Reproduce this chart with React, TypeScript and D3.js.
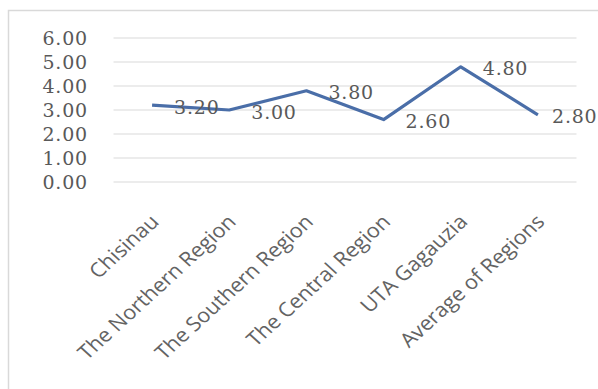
import React from "react";
import * as d3 from "d3";

const categories = ["Chisinau", "The Northern Region", "The Southern Region", "The Central Region", "UTA Gagauzia", "Average of Regions"];
const values = [3.2, 3.0, 3.8, 2.6, 4.8, 2.8];
const yTicks = [0, 1, 2, 3, 4, 5, 6];

const W = 598;
const H = 389;
const plotLeft = 113.5;
const plotRight = 576.5;
const yTop = 38;
const yBottom = 182;

export default function App() {
  const x = d3.scaleBand<string>().domain(categories).range([plotLeft, plotRight]);
  const y = d3.scaleLinear().domain([0, 6]).range([yBottom, yTop]);
  const cx = (c: string) => (x(c) ?? 0) + x.bandwidth() / 2;
  const line = d3
    .line<number>()
    .x((_, i) => cx(categories[i]))
    .y((d) => y(d));
  const serif = "'DejaVu Serif', serif";
  const sans = "'Open Sans', sans-serif";
  const labelW = 46;
  return (
    <svg width={W} height={H} style={{ position: "absolute", left: 0, top: 0, background: "#fff" }}>
      <rect x={8.5} y={10.5} width={600} height={400} fill="#fff" stroke="#d9d9d9" strokeWidth={1.5} />
      {yTicks.map((t) => (
        <g key={t}>
          <line x1={plotLeft} x2={plotRight} y1={y(t)} y2={y(t)} stroke="#d9d9d9" strokeWidth={1.2} />
          <text
            x={88}
            y={y(t)}
            dy="0.35em"
            textAnchor="end"
            fontFamily={serif}
            fontSize={19}
            letterSpacing={0.8}
            fill="#595959"
          >
            {t.toFixed(2)}
          </text>
        </g>
      ))}
      <path d={line(values) ?? ""} fill="none" stroke="#4a6ea8" strokeWidth={3.2} strokeLinejoin="round" />
      {values.map((v, i) => (
        <text
          key={i}
          x={Math.min(cx(categories[i]) + 22, W - labelW)}
          y={y(v) + 2}
          dy="0.35em"
          fontFamily={serif}
          fontSize={19}
          letterSpacing={0.8}
          fill="#595959"
        >
          {v.toFixed(2)}
        </text>
      ))}
      {categories.map((c) => (
        <text
          key={c}
          transform={`translate(${cx(c) + 8},${223}) scale(1.09,1) rotate(-45)`}
          textAnchor="end"
          fontFamily={sans}
          fontSize={20}
          fill="#636363"
        >
          {c}
        </text>
      ))}
    </svg>
  );
}
